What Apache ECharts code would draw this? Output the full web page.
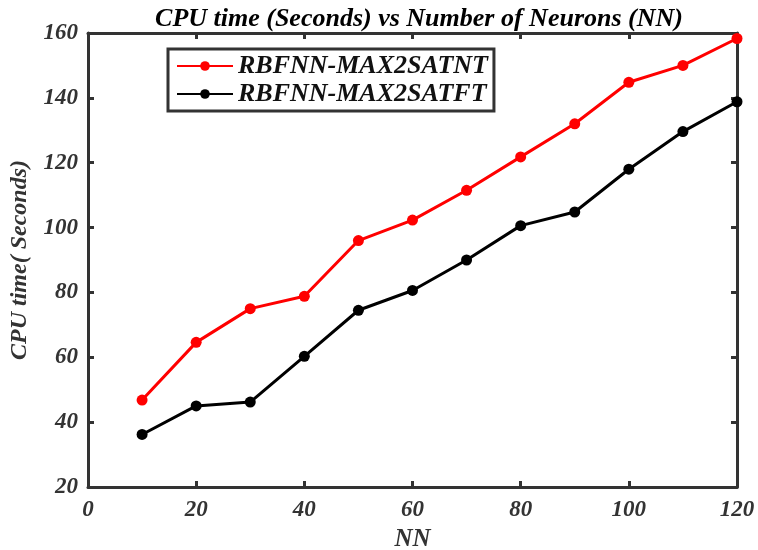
<!DOCTYPE html>
<html><head><meta charset="utf-8">
<script src="https://cdn.jsdelivr.net/npm/echarts@6/dist/echarts.min.js"></script>
<style>html,body{margin:0;padding:0;background:#fff}#c{width:758px;height:550px}</style>
</head><body><div id="c"></div>
<script>
const nn = [10, 20, 30, 40, 50, 60, 70, 80, 90, 100, 110, 120];
const rbfnnNT = [46.8, 64.6, 75, 78.8, 96, 102.3, 111.5, 121.8, 132, 144.8, 150, 158.3];
const rbfnnFT = [36.2, 45, 46.2, 60.3, 74.5, 80.6, 90, 100.6, 104.8, 118, 129.6, 138.8];
const seriesNames = ['RBFNN-MAX2SATNT', 'RBFNN-MAX2SATFT'];

const font = 'Liberation Serif';
const axisCol = '#333';
const chart = echarts.init(document.getElementById('c'));
const lbl = {fontFamily: font, fontWeight: 'bold', fontStyle: 'italic', fontSize: 23, color: '#333'};
chart.setOption({
  animation: false,
  title: {text: 'CPU time (Seconds) vs Number of Neurons (NN)', left: 414, textAlign: 'center', top: 1,
    textStyle: {fontFamily: font, fontWeight: 'bold', fontStyle: 'italic', fontSize: 26, color: '#000'}},
  grid: {left: 88, right: 21, top: 33, bottom: 63, containLabel: false, outerBoundsMode: 'none'},
  legend: {orient: 'vertical', left: 168, top: 49, itemWidth: 56, itemHeight: 12, itemGap: 2,
    padding: [4, 6, 4, 8], borderColor: axisCol, borderWidth: 3,
    textStyle: {fontFamily: font, fontWeight: 'bold', fontStyle: 'italic', fontSize: 26, color: '#111'},
    data: seriesNames},
  xAxis: [
    {type: 'value', min: 0, max: 120, interval: 20, name: 'NN', nameLocation: 'middle', nameGap: 36,
     nameTextStyle: {fontFamily: font, fontWeight: 'bold', fontStyle: 'italic', fontSize: 25, color: '#333'},
     axisLine: {onZero: false, lineStyle: {color: axisCol, width: 3}},
     axisTick: {inside: true, length: 6, lineStyle: {color: axisCol, width: 3}},
     axisLabel: Object.assign({margin: 12}, lbl), splitLine: {show: false}},
    {type: 'value', position: 'top', min: 0, max: 120, interval: 20,
     axisLine: {onZero: false, lineStyle: {color: axisCol, width: 3}},
     axisTick: {inside: true, length: 6, lineStyle: {color: axisCol, width: 3}},
     axisLabel: {show: false}, splitLine: {show: false}}
  ],
  yAxis: [
    {type: 'value', min: 20, max: 160, interval: 20, name: 'CPU time( Seconds)', nameLocation: 'middle', nameGap: 56,
     nameTextStyle: {fontFamily: font, fontWeight: 'bold', fontStyle: 'italic', fontSize: 24, color: '#333'},
     axisLine: {onZero: false, lineStyle: {color: axisCol, width: 3}},
     axisTick: {inside: true, length: 6, lineStyle: {color: axisCol, width: 3}},
     axisLabel: Object.assign({margin: 10}, lbl), splitLine: {show: false}},
    {type: 'value', position: 'right', min: 20, max: 160, interval: 20,
     axisLine: {onZero: false, lineStyle: {color: axisCol, width: 3}},
     axisTick: {inside: true, length: 6, lineStyle: {color: axisCol, width: 3}},
     axisLabel: {show: false}, splitLine: {show: false}}
  ],
  series: [
    {name: seriesNames[0], type: 'line', data: nn.map((x, i) => [x, rbfnnNT[i]]),
     symbol: 'circle', symbolSize: 11, lineStyle: {color: '#ff0000', width: 3}, itemStyle: {color: '#ff0000'}},
    {name: seriesNames[1], type: 'line', data: nn.map((x, i) => [x, rbfnnFT[i]]),
     symbol: 'circle', symbolSize: 11, lineStyle: {color: '#000', width: 3}, itemStyle: {color: '#000'}}
  ]
});
</script></body></html>
